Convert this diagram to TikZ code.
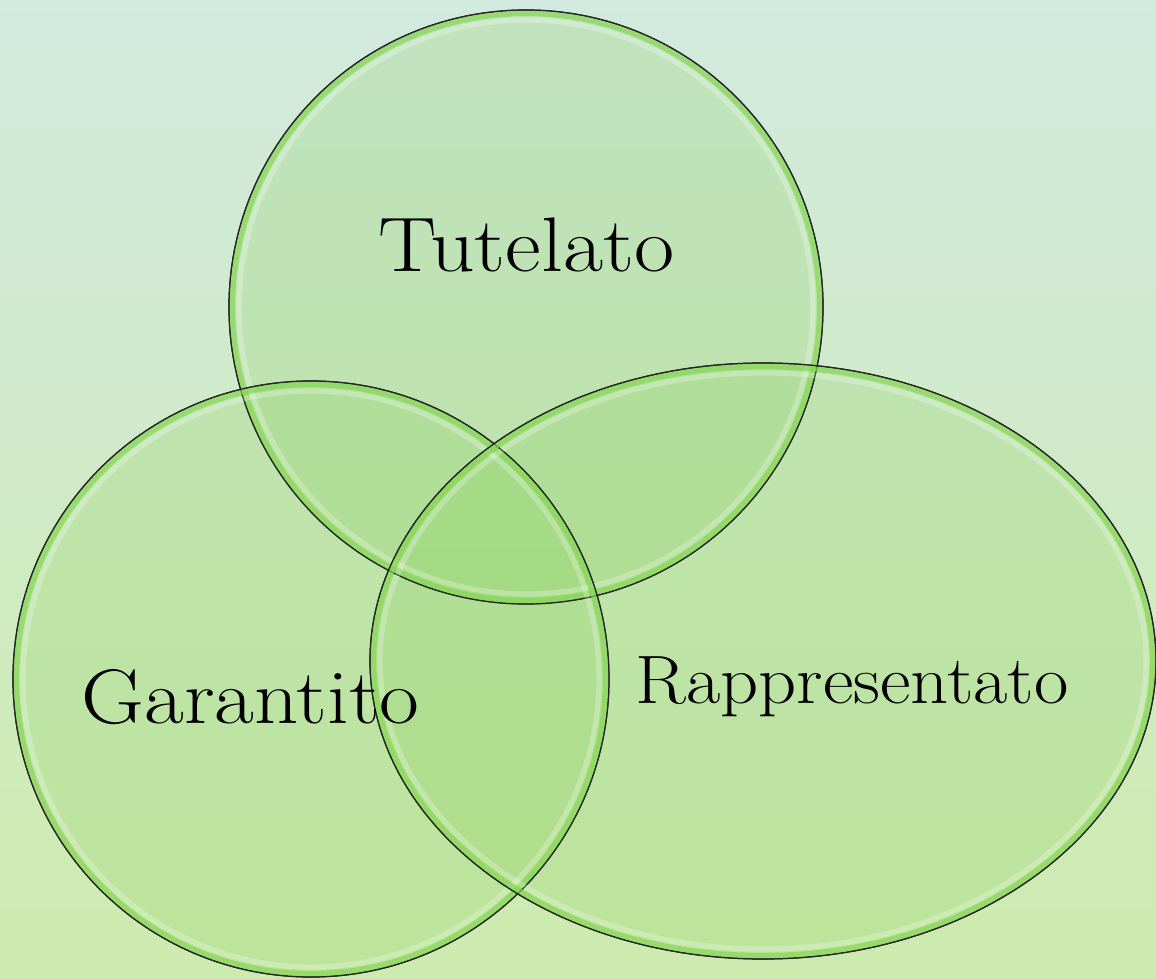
\documentclass[tikz,border=0pt]{standalone}
\usetikzlibrary{shapes,positioning}
\usepackage{xcolor}
\definecolor{bgtop}{RGB}{210,234,223}
\definecolor{bgbot}{RGB}{205,235,174}
\definecolor{leaf}{RGB}{130,205,80}
\definecolor{rimgreen}{RGB}{135,215,85}

\begin{document}
\begin{tikzpicture}[
    bubble/.style={ellipse, draw=black!85, line width=0.7pt, fill=leaf, fill opacity=0.22, inner sep=0pt},
    rim/.style={draw=rimgreen, line width=3pt, opacity=0.7},
    gloss/.style={draw=white, line width=3pt, opacity=0.25},
    word/.style={anchor=base, text=black}]
    % Background
    \shade[top color=bgtop, bottom color=bgbot] (0,0) rectangle (23.12,19.56);
    \useasboundingbox (0,0) rectangle (23.12,19.56);

    % Bubbles
    \node[bubble, minimum width=11.88cm, minimum height=11.88cm] (tut) at (10.52,13.42) {};
    \node[bubble, minimum width=11.92cm, minimum height=11.92cm] (gar) at (6.22,5.98) {};
    \node[bubble, minimum width=15.72cm, minimum height=11.92cm] (rap) at (15.26,6.34) {};

    % Glossy rims
    \foreach \n/\rx/\ry in {tut/5.94/5.94, gar/5.96/5.96, rap/7.86/5.96} {
        \draw[rim] (\n.center) ellipse [x radius=\rx cm-0.07cm, y radius=\ry cm-0.07cm];
        \draw[gloss] (\n.center) ellipse [x radius=\rx cm-0.2cm, y radius=\ry cm-0.2cm];
        \draw[black!85, line width=0.7pt] (\n.center) ellipse [x radius=\rx cm, y radius=\ry cm];
    }

    % Labels
    \node[word, font=\fontsize{44}{52}\selectfont] (tutlab) at (10.53,14.12) {\scalebox{1.13}[1]{Tutelato}};
    \node[word, font=\fontsize{44}{52}\selectfont] (garlab) at (5.01,5.10) {\scalebox{1.12}[1]{Garantito}};
    \node[word, font=\fontsize{39}{46}\selectfont] (raplab) at (17.04,5.50) {\scalebox{1.09}[1]{Rappresentato}};
\end{tikzpicture}
\end{document}
